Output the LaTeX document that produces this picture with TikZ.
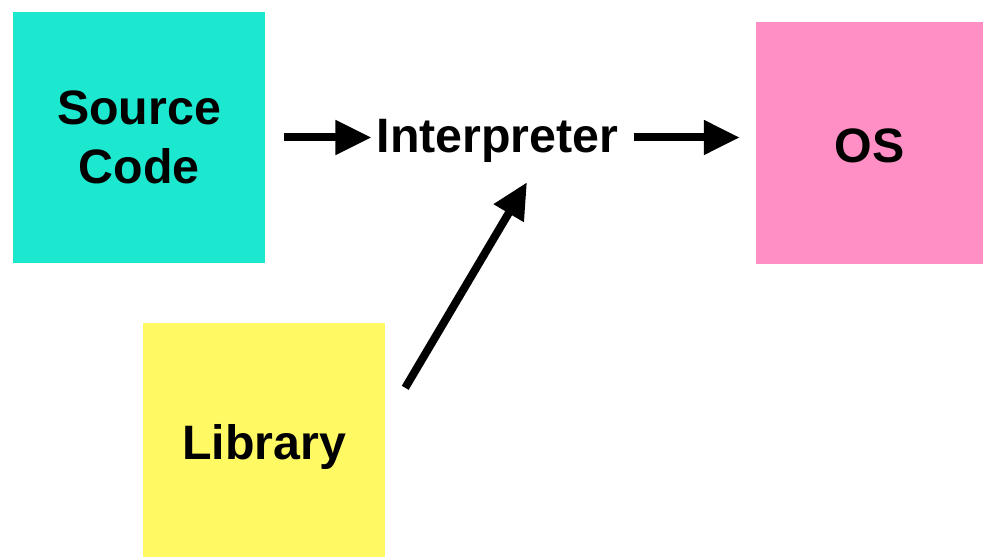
\documentclass[tikz,border=0pt]{standalone}
\usepackage{fontspec}
\setmainfont{Liberation Sans}
\usetikzlibrary{arrows.meta,calc}
\definecolor{srcfill}{RGB}{28,232,208}
\definecolor{osfill}{RGB}{255,143,197}
\definecolor{libfill}{RGB}{255,249,100}
\begin{document}
\begin{tikzpicture}[x=1bp,y=-1bp,
  box/.style={rectangle,inner sep=0pt,
    font=\fontsize{48.5}{59}\selectfont\bfseries},
  oneline/.style={text height=39bp,text depth=0pt},
  arr/.style={line width=8bp,-{Triangle[length=36bp,width=33bp]}}]
\useasboundingbox (0,0) rectangle (983,557);
% blocks
\node[box,align=center,fill=srcfill,minimum width=252bp,minimum height=251bp] (src) at (139,137.5) {Source\\Code};
\node[box,oneline,fill=osfill,minimum width=227bp,minimum height=242bp] (os) at (869.5,143) {OS};
\node[box,oneline,fill=libfill,minimum width=242bp,minimum height=234bp] (lib) at (264,440) {Library};
\node[box,anchor=base] (interp) at (497.5,153) {Interpreter};
% flow
\draw[arr,shorten <=19bp,shorten >=5bp] (src.east) -- (src.east -| interp.west);
\draw[arr,shorten <=15bp,shorten >=16bp] (interp.east |- src.east) -- (os.west |- src.east);
\coordinate (libout) at ($(lib.north east)+(20,65)$);
\coordinate (interpin) at ($(interp.south)+(29.5,19)$);
\draw[arr] (libout) -- (interpin);
\end{tikzpicture}
\end{document}
